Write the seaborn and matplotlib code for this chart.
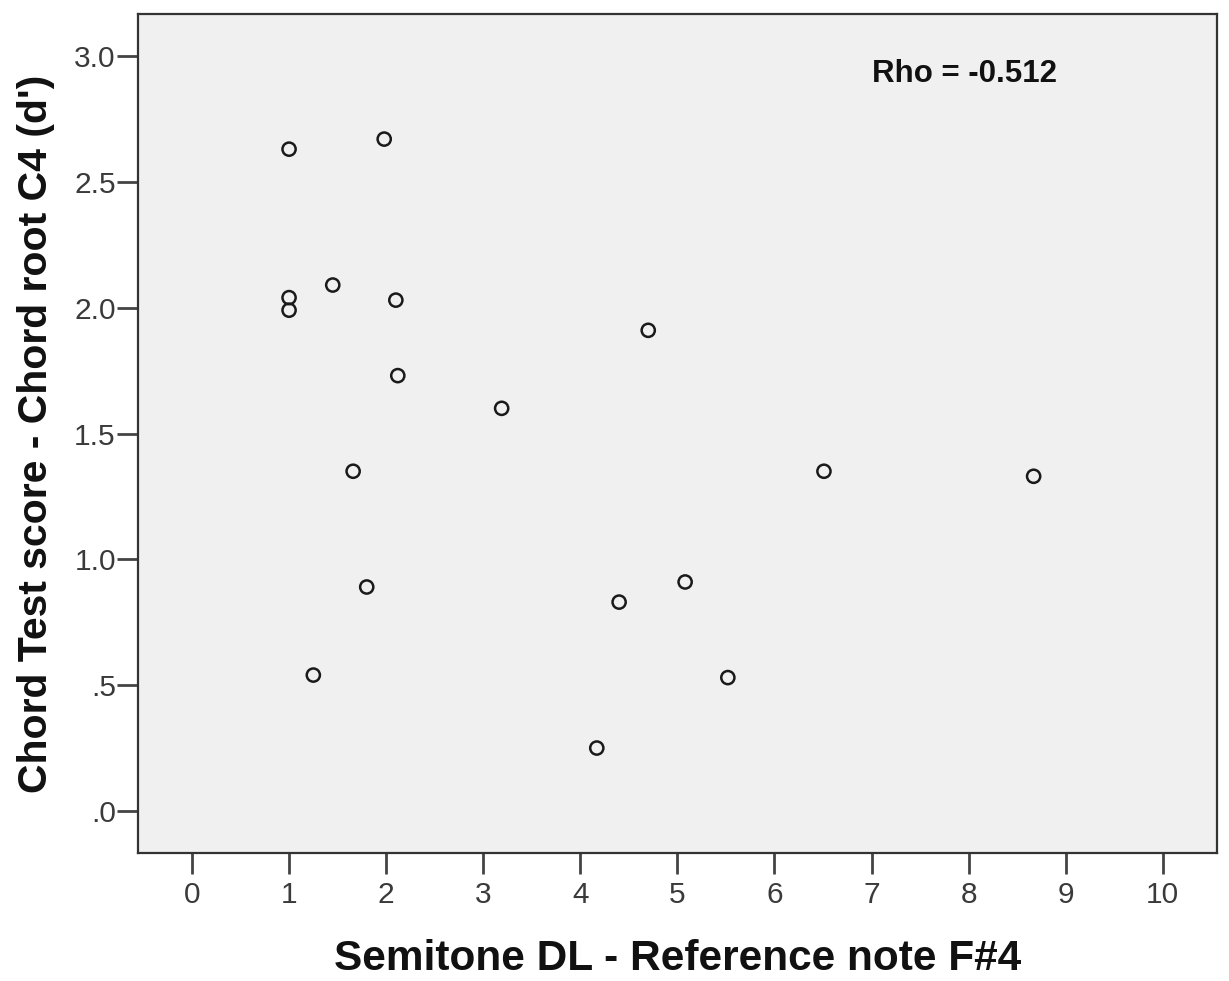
import matplotlib
matplotlib.use("Agg")
import matplotlib.pyplot as plt
import seaborn as sns
import pandas as pd

# Semitone discrimination limen vs chord test score
semitone_dl = [1.00, 1.98, 1.00, 1.00, 1.45, 2.10, 4.70, 2.12, 3.19, 1.66,
               6.51, 8.67, 1.80, 5.08, 4.40, 1.25, 5.52, 4.17]
chord_score = [2.63, 2.67, 2.04, 1.99, 2.09, 2.03, 1.91, 1.73, 1.60, 1.35,
               1.35, 1.33, 0.89, 0.91, 0.83, 0.54, 0.53, 0.25]
x_ticks = list(range(0, 11))
y_ticks = [0.0, 0.5, 1.0, 1.5, 2.0, 2.5, 3.0]
y_tick_labels = [".0", ".5", "1.0", "1.5", "2.0", "2.5", "3.0"]
rho_label = "Rho = -0.512"

df = pd.DataFrame({"dl": semitone_dl, "score": chord_score})

sns.set_theme(style="white")
plt.rcParams["font.family"] = ["Liberation Sans", "DejaVu Sans"]

fig = plt.figure(figsize=(12.29, 9.81), dpi=100)
ax = fig.add_axes([0.1123, 0.1305, 0.8777, 0.8552])
ax.set_facecolor("#f0f0f0")

sns.scatterplot(data=df, x="dl", y="score", ax=ax, s=90, marker="o",
                facecolor="none", edgecolor="#1a1a1a", linewidth=1.8,
                legend=False)

ax.set_xlim(-0.556, 10.556)
ax.set_ylim(-0.167, 3.167)
ax.set_xticks(x_ticks)
ax.set_xticklabels([str(t) for t in x_ticks])
ax.set_yticks(y_ticks)
ax.set_yticklabels(y_tick_labels)

for side in ["left", "bottom", "top", "right"]:
    ax.spines[side].set_visible(True)
    ax.spines[side].set_color("#333333")
    ax.spines[side].set_linewidth(1.6)

ax.tick_params(axis="both", which="major", direction="out", length=15,
               width=2, color="#444444", labelsize=21.5, labelcolor="#3a3a3a",
               bottom=True, left=True)
ax.tick_params(axis="y", pad=1)
ax.tick_params(axis="x", pad=5)

ax.set_xlabel("Semitone DL - Reference note F#4", fontsize=30.5,
              fontweight="bold", color="#111111", labelpad=22)
ax.set_ylabel("Chord Test score - Chord root C4 (d')", fontsize=29.5,
              fontweight="bold", color="#111111", labelpad=14)

ax.text(7.0, 2.93, rho_label, fontsize=22.5, fontweight="bold",
        color="#111111", ha="left", va="center")

fig.savefig("out.png", dpi=100, facecolor="white")
